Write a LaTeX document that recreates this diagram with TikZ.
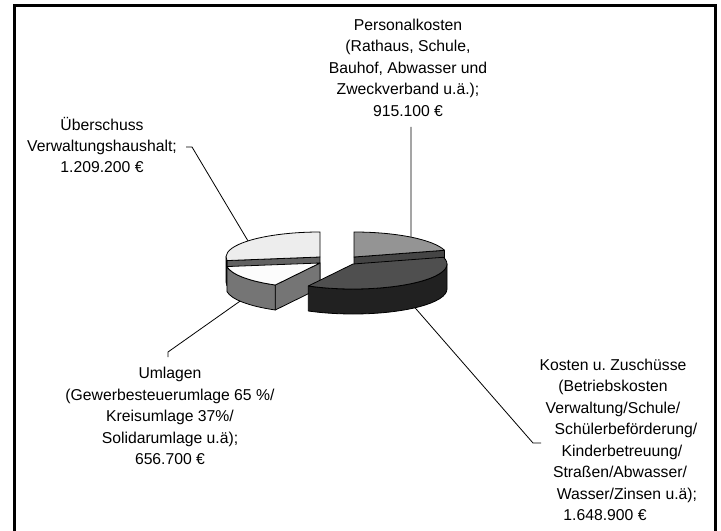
\documentclass[tikz,border=0pt]{standalone}
\usepackage{fontspec}
\setmainfont{Liberation Sans}
\usetikzlibrary{positioning, calc}
\definecolor{persTop}{gray}{0.58}
\definecolor{persSide}{gray}{0.27}
\definecolor{koTop}{gray}{0.31}
\definecolor{koWall}{gray}{0.13}
\definecolor{umTop}{gray}{0.99}
\definecolor{umWall}{gray}{0.46}
\definecolor{ueTop}{gray}{0.93}
\definecolor{ueSide}{gray}{0.38}
\frenchspacing
\tikzset{%
	slice/.style={draw=black, line width=0.6pt, line join=round},
	lbl/.style={align=center, inner sep=0pt, font=\fontsize{11.8}{16.1}\selectfont},
	leader/.style={draw=black, line width=0.6pt},
	frame/.style={draw=black, line width=2.25pt}
}

\begin{document}
\begin{tikzpicture}[x=0.75pt, y=0.75pt]
	\useasboundingbox (0,0) rectangle (721,-531);
	\draw[frame] (14.5,-6) rectangle (715,-545);

	\coordinate (cP)  at (354,-257);
	\coordinate (cUe) at (320,-257);
	\coordinate (cU)  at (320,-263);
	\coordinate (cK)  at (353,-264);

	% Personalkosten
	\filldraw[slice, fill=persSide] (cP) -- ++(15.6:94 and 25) -- ++(0,-25) -- ($(cP)+(0,-25)$) -- cycle;
	\filldraw[slice, fill=persTop] (cP) -- ++(15.6:94 and 25) arc[start angle=15.6, end angle=90, x radius=94, y radius=25] -- cycle;

	% Ueberschuss
	\filldraw[slice, fill=ueSide] (cUe) -- ++(188.2:94 and 25) -- ++(0,-25) -- ($(cUe)+(0,-25)$) -- cycle;
	\filldraw[slice, fill=ueSide] ($(cUe)+(180:94 and 25)$) arc[start angle=180, end angle=188.2, x radius=94, y radius=25]
		-- ++(0,-25) arc[start angle=188.2, end angle=180, x radius=94, y radius=25] -- cycle;
	\filldraw[slice, fill=ueTop] (cUe) -- ++(90:94 and 25) arc[start angle=90, end angle=188.2, x radius=94, y radius=25] -- cycle;

	% Umlagen
	\filldraw[slice, fill=umWall] (cU) -- ++(241.6:94 and 25) -- ++(0,-25) -- ($(cU)+(0,-25)$) -- cycle;
	\filldraw[slice, fill=umWall] ($(cU)+(188.2:94 and 25)$) arc[start angle=188.2, end angle=241.6, x radius=94, y radius=25]
		-- ++(0,-25) arc[start angle=241.6, end angle=188.2, x radius=94, y radius=25] -- cycle;
	\filldraw[slice, fill=umTop] (cU) -- ++(188.2:94 and 25) arc[start angle=188.2, end angle=241.6, x radius=94, y radius=25] -- cycle;

	% Kosten u. Zuschuesse
	\filldraw[slice, fill=koWall] ($(cK)+(-118.4:94 and 25)$) arc[start angle=-118.4, end angle=0, x radius=94, y radius=25]
		-- ++(0,-25) arc[start angle=0, end angle=-118.4, x radius=94, y radius=25] -- cycle;
	\filldraw[slice, fill=koTop] (cK) -- ++(-118.4:94 and 25) arc[start angle=-118.4, end angle=15.6, x radius=94, y radius=25] -- cycle;

	% labels
	\node[lbl] (pers) at (408,-67.5) {Personalkosten\\(Rathaus, Schule,\\Bauhof, Abwasser und\\Zweckverband u.ä.);\\915.100 €};
	\node[lbl] (ue) at (102,-145) {Überschuss\\Verwaltungshaushalt;\\1.209.200 €};
	\node[lbl] (um) at (170,-416) {Umlagen\\(Gewerbesteuerumlage 65 \%/\\Kreisumlage 37\%/\\Solidarumlage u.ä);\\656.700 €};
	\node[lbl] (ko) at (613,-440) {Kosten u. Zuschüsse\\(Betriebskosten\\Verwaltung/Schule/\hspace*{24pt}\\\hspace*{19.5pt}Schülerbeförderung/\\\hspace*{13.5pt}Kinderbetreuung/\\\hspace*{10.5pt}Straßen/Abwasser/\\\hspace*{21pt}Wasser/Zinsen u.ä);\\1.648.900 €\hspace*{12pt}};

	% leaders
	\path (cP) ++(52.7:94 and 25) coordinate (pers-pt);
	\path (cUe) ++(140:94 and 25) coordinate (ue-pt);
	\path (cU) ++(211.7:94 and 25) ++(0,-25) coordinate (um-pt);
	\path (cK) ++(-48.7:94 and 25) ++(0,-25) coordinate (ko-pt);
	\coordinate (pers-end) at (411,-127);
	\coordinate (ue-knee) at (192,-147);
	\coordinate (ue-end) at (186,-147);
	\coordinate (um-knee) at (168,-352);
	\coordinate (um-end) at (168,-357);
	\coordinate (ko-knee) at (533,-443);
	\coordinate (ko-end) at (541,-443);

	\draw[leader] (pers-end) -- (pers-pt);
	\draw[leader] (ue-end) -- (ue-knee) -- (ue-pt);
	\draw[leader] (um-end) -- (um-knee) -- (um-pt);
	\draw[leader] (ko-end) -- (ko-knee) -- (ko-pt);
\end{tikzpicture}
\end{document}
